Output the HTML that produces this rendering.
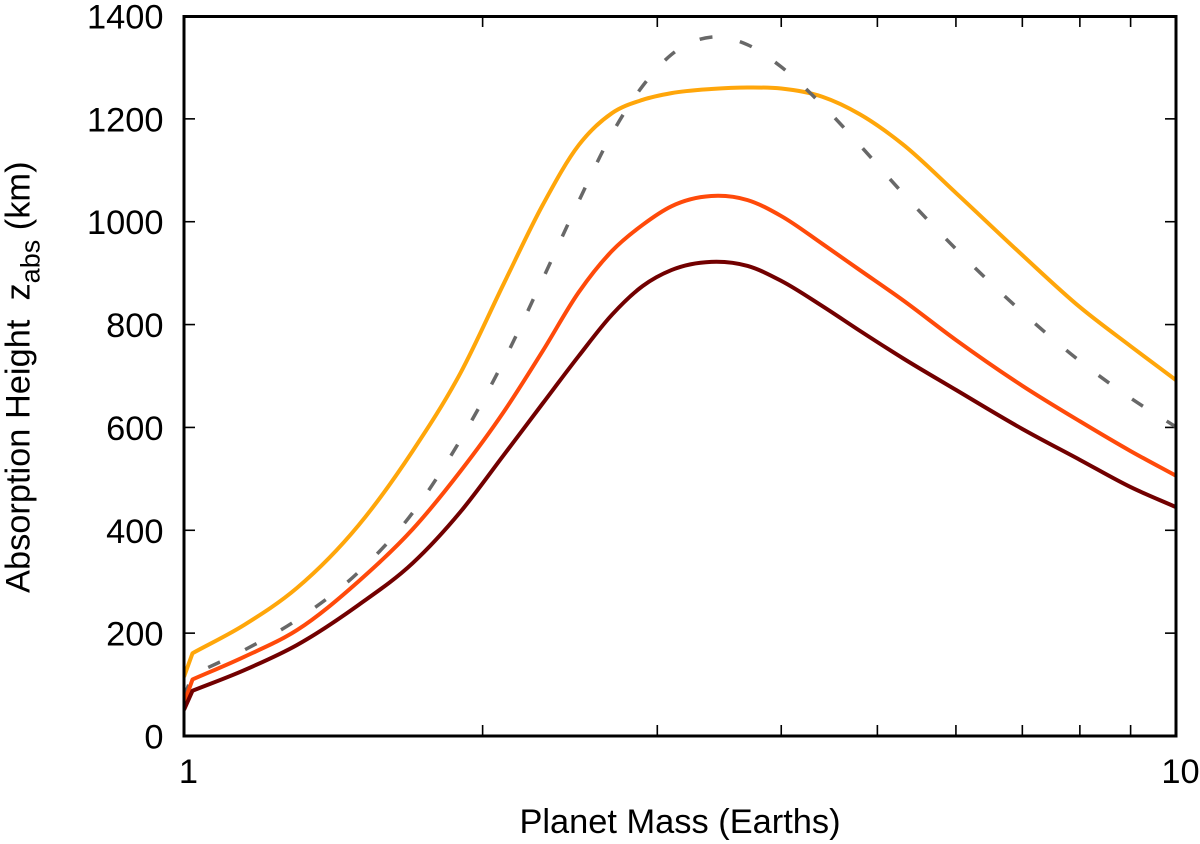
<!DOCTYPE html>
<html lang="en">
<head>
<meta charset="utf-8">
<title>Absorption Height vs Planet Mass</title>
<style>
html,body{margin:0;padding:0;background:#fff;width:1200px;height:844px;overflow:hidden}
svg{display:block}
text{font-family:"Liberation Sans",Arial,sans-serif;fill:#000}
</style>
</head>
<body>
<svg id="chart" width="1200" height="844" viewBox="0 0 1200 844" xmlns="http://www.w3.org/2000/svg">
  <defs><clipPath id="plot-clip"><rect x="184" y="16" width="992" height="720"/></clipPath></defs>
  <g id="ticks"></g>
  <g id="series" clip-path="url(#plot-clip)"></g>
  <rect x="184" y="16.5" width="992" height="719.5" fill="none" stroke="#000" stroke-width="3"/>
  <g id="labels" font-size="34.4"></g>
  <text x="680" y="833" font-size="34.4" text-anchor="middle">Planet Mass (Earths)</text>
  <text transform="translate(29.5 593) rotate(-90)" font-size="34.4" xml:space="preserve">Absorption Height  z<tspan font-size="27" dy="10">abs</tspan><tspan dy="-10"> (km)</tspan></text>
</svg>
<script>
var masses = [1,1.02,1.15,1.3,1.5,1.7,1.9,2.1,2.3,2.5,2.7,2.9,3.1,3.4,3.7,4,4.4,4.8,5.3,6,7,8,9,10];
var goldValues = [115,161,216,288,410,554,706,879,1033,1149,1211,1237,1250,1258,1261,1259,1243,1209,1151,1056,935,834,758,692];
var grayValues = [76,119,167,226,319,434,576,729,889,1040,1171,1264,1325,1359,1344,1301,1227,1149,1056,947,824,729,657,601];
var orangeValues = [64,110,154,206,301,402,515,630,749,863,943,994,1030,1050,1042,1011,957,906,848,770,681,612,554,506];
var maroonValues = [51,88,128,177,255,336,436,546,647,739,819,875,906,922,914,885,836,788,735,673,597,537,484,445];
var yTickValues = [0,200,400,600,800,1000,1200,1400];
var xMajorTicks = [1,10];
var xMinorTicks = [2,3,4,5,6,7,8,9];

var NS = 'http://www.w3.org/2000/svg';
var LEFT = 184, RIGHT = 1176, TOP = 16, BOTTOM = 736, Y_MAX = 1400;
function xScale(m){ return LEFT + (Math.log(m) / Math.LN10) * (RIGHT - LEFT); }
function yScale(v){ return BOTTOM - (v / Y_MAX) * (BOTTOM - TOP); }

function makeLine(x1, y1, x2, y2){
  var l = document.createElementNS(NS, 'line');
  l.setAttribute('x1', x1);
  l.setAttribute('y1', y1);
  l.setAttribute('x2', x2);
  l.setAttribute('y2', y2);
  l.setAttribute('stroke', '#000');
  l.setAttribute('stroke-width', '1.6');
  return l;
}

function buildPath(values){
  var pts = masses.map(function(m, i){ return [xScale(m), yScale(values[i])]; });
  var d = 'M' + pts[0][0].toFixed(2) + ' ' + pts[0][1].toFixed(2);
  d += 'L' + pts[1][0].toFixed(2) + ' ' + pts[1][1].toFixed(2);
  function tangent(i){
    if (i <= 1) {
      return (pts[2][1] - pts[1][1]) / (pts[2][0] - pts[1][0]);
    }
    if (i >= pts.length - 1) {
      return (pts[i][1] - pts[i - 1][1]) / (pts[i][0] - pts[i - 1][0]);
    }
    var h0 = pts[i][0] - pts[i - 1][0], h1 = pts[i + 1][0] - pts[i][0];
    var s0 = (pts[i][1] - pts[i - 1][1]) / h0, s1 = (pts[i + 1][1] - pts[i][1]) / h1;
    return (s0 * h1 + s1 * h0) / (h0 + h1);
  }
  for (var i = 1; i < pts.length - 1; i++) {
    var p1 = pts[i], p2 = pts[i + 1], h = (p2[0] - p1[0]) / 3;
    var c1y = p1[1] + tangent(i) * h, c2y = p2[1] - tangent(i + 1) * h;
    d += 'C' + (p1[0] + h).toFixed(2) + ' ' + c1y.toFixed(2) + ' ' + (p2[0] - h).toFixed(2) + ' ' + c2y.toFixed(2) + ' ' + p2[0].toFixed(2) + ' ' + p2[1].toFixed(2);
  }
  return d;
}

var tickGroup = document.getElementById('ticks');
var labelGroup = document.getElementById('labels');
var seriesGroup = document.getElementById('series');

yTickValues.forEach(function(v){
  var y = yScale(v);
  if (v !== 0 && v !== Y_MAX) {
    var left = makeLine(LEFT, y, LEFT + 11, y);
    
    
    tickGroup.appendChild(left);
    var right = makeLine(RIGHT, y, RIGHT - 11, y);
    
    
    tickGroup.appendChild(right);
  }
  var t = document.createElementNS(NS, 'text');
  t.setAttribute('x', 163.5);
  t.setAttribute('y', y + 12.5);
  t.setAttribute('text-anchor', 'end');
  t.textContent = String(v);
  
  
  labelGroup.appendChild(t);
});

xMinorTicks.forEach(function(m){
  var x = xScale(m);
  var bottom = makeLine(x, BOTTOM, x, BOTTOM - 11);
  
  
  tickGroup.appendChild(bottom);
  var top = makeLine(x, TOP, x, TOP + 11);
  
  
  tickGroup.appendChild(top);
});

xMajorTicks.forEach(function(m){
  var t = document.createElementNS(NS, 'text');
  t.setAttribute('x', xScale(m) + 4.5);
  t.setAttribute('y', 783);
  t.setAttribute('text-anchor', 'middle');
  t.textContent = String(m);
  
  
  labelGroup.appendChild(t);
});

var goldPath = document.createElementNS(NS, 'path');
goldPath.setAttribute('d', buildPath(goldValues));
goldPath.setAttribute('fill', 'none');
goldPath.setAttribute('stroke', '#ffa60a');
goldPath.setAttribute('stroke-width', '4');
goldPath.setAttribute('stroke-linejoin', 'round');


seriesGroup.appendChild(goldPath);

var grayPath = document.createElementNS(NS, 'path');
grayPath.setAttribute('d', buildPath(grayValues));
grayPath.setAttribute('fill', 'none');
grayPath.setAttribute('stroke', '#686868');
grayPath.setAttribute('stroke-width', '3.5');
grayPath.setAttribute('stroke-dasharray', '13 28');


seriesGroup.appendChild(grayPath);

var orangePath = document.createElementNS(NS, 'path');
orangePath.setAttribute('d', buildPath(orangeValues));
orangePath.setAttribute('fill', 'none');
orangePath.setAttribute('stroke', '#ff4a0a');
orangePath.setAttribute('stroke-width', '4');
orangePath.setAttribute('stroke-linejoin', 'round');


seriesGroup.appendChild(orangePath);

var maroonPath = document.createElementNS(NS, 'path');
maroonPath.setAttribute('d', buildPath(maroonValues));
maroonPath.setAttribute('fill', 'none');
maroonPath.setAttribute('stroke', '#720000');
maroonPath.setAttribute('stroke-width', '4');
maroonPath.setAttribute('stroke-linejoin', 'round');


seriesGroup.appendChild(maroonPath);
</script>
</body>
</html>
